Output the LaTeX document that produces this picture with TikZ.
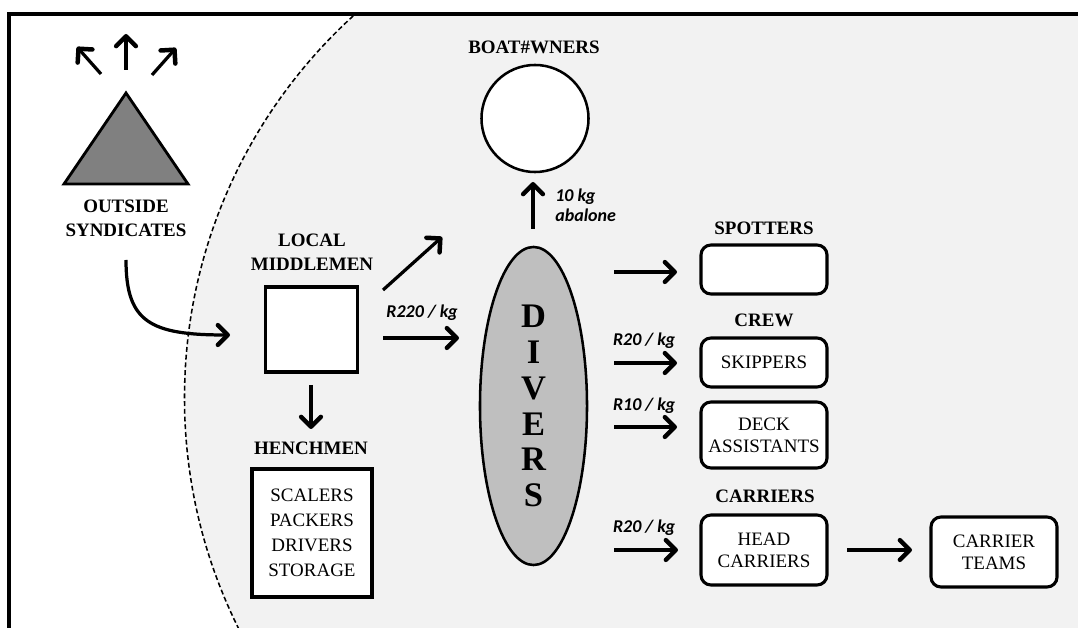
\documentclass[tikz,border=0pt]{standalone}
\usepackage{fontspec}
\setmainfont{Liberation Serif}
\newfontfamily\ratefont{Carlito}
\usetikzlibrary{shapes.geometric, arrows.meta}

\begin{document}
\begin{tikzpicture}[x=0.025cm, y=-0.025cm, % 1 unit = 1 px of the sketch
  arr/.style={line width=2.3pt, -{Straight Barb[length=7pt, width=14pt, line width=3.2pt, round]}},
  title/.style={font=\fontsize{13.5}{17}\selectfont\bfseries, inner sep=0pt, align=center},
  rate/.style={font=\ratefont\fontsize{12.8}{14.2}\selectfont\bfseries\itshape, inner sep=0pt, align=left},
  rbox/.style={draw, line width=2.2pt, fill=white, rounded corners=0.25cm, minimum width=3.15cm,
    font=\fontsize{13.5}{15.5}\selectfont, align=center, inner sep=0pt}
]
\useasboundingbox (0,0) rectangle (1078,628);

% shaded area of the local trade
\begin{scope}
  \clip (9,14) rectangle (1078,628);
  \fill[black!5] (701.5,398) circle (517);
  \fill[black!5] (701.5,14) rectangle (1078,628);
\end{scope}
\begin{scope}
  \clip (9,14) rectangle (701,628);
  \draw[line width=1.1pt, dash pattern=on 3.5pt off 2pt] (701.5,398) circle (517);
\end{scope}
\draw[line width=2.4pt] (9,628) -- (9,14) -- (1078,14);

% outside syndicates
\filldraw[fill=black!50, line width=2pt] (126,93) -- (188,184) -- (64,184) -- cycle;
\node[title] (synd) at (126,218) {OUTSIDE\\SYNDICATES};
\coordinate (upA) at (126,70);   \coordinate (upB) at (126,34);
\coordinate (ulA) at (101,74);   \coordinate (ulB) at (77,47);
\coordinate (urA) at (152,75);   \coordinate (urB) at (176,48);
\draw[arr] (upA) -- (upB);
\draw[arr] (ulA) -- (ulB);
\draw[arr] (urA) -- (urB);

% middlemen and henchmen
\node[title] (midlab) at (312,252) {LOCAL\\MIDDLEMEN};
\node[draw, line width=2.8pt, fill=white, minimum width=2.3cm, minimum height=2.125cm] (mid) at (311.5,329.5) {};
\node[title] (henlab) at (311,448) {HENCHMEN};
\node[draw, line width=2.3pt, fill=white, minimum width=3cm, minimum height=3.2cm,
  font=\fontsize{13.5}{17.7}\selectfont, align=center] (hench) at (312,533) {SCALERS\\PACKERS\\DRIVERS\\STORAGE};
\coordinate (syndA) at (126,260);  \coordinate (syndB) at (230,335);
\draw[arr] (syndA) .. controls (126,322) and (150,335) .. (syndB);
\coordinate (m2bA) at (383,290);   \coordinate (m2bB) at (442,237);
\coordinate (m2dA) at (383,338);   \coordinate (m2dB) at (459,338);
\coordinate (m2hA) at (311,385);   \coordinate (m2hB) at (311,429);
\draw[arr] (m2bA) -- (m2bB);
\draw[arr] (m2dA) -- (m2dB);
\draw[arr] (m2hA) -- (m2hB);
\node[rate] (r220) at (422,313) {R220 / kg};

% boat owners and divers
\node[title] (boatlab) at (534,47) {BOAT\#WNERS};
\node[circle, draw, line width=1.8pt, fill=white, minimum size=2.675cm, inner sep=0pt] (boat) at (535,118.5) {};
\node[ellipse, draw, line width=1.8pt, fill=black!25, minimum width=2.675cm, minimum height=7.95cm, inner sep=0pt,
  font=\fontsize{24.5}{25.5}\selectfont\bfseries, align=center] (divers) at (533.5,406) {D\\I\\V\\E\\R\\S};
\coordinate (d2bA) at (533,229);   \coordinate (d2bB) at (533,182);
\draw[arr] (d2bA) -- (d2bB);
\node[rate, anchor=west] (catch) at (555,205) {10 kg\\abalone};

% divers' helpers
\node[title] (spotlab) at (764,228) {SPOTTERS};
\node[rbox, minimum height=1.225cm] (spot) at (764,269.5) {};
\node[title] (crewlab) at (764,320) {CREW};
\node[rbox, minimum height=1.225cm] (skip) at (764,362.5) {SKIPPERS};
\node[rbox, minimum height=1.65cm] (deck) at (764,435) {DECK\\ASSISTANTS};
\node[title] (carrlab) at (765,496) {CARRIERS};
\node[rbox, minimum height=1.75cm] (head) at (764,550) {HEAD\\CARRIERS};
\node[rbox, minimum height=1.75cm] (teams) at (994,552) {CARRIER\\TEAMS};
\node[rate] (r20a) at (644,341) {R20 / kg};
\node[rate] (r10) at (644,406) {R10 / kg};
\node[rate] (r20b) at (644,528) {R20 / kg};
\coordinate (spA) at (614,272);    \coordinate (spB) at (677,272);
\coordinate (skA) at (614,363);    \coordinate (skB) at (677,363);
\coordinate (dkA) at (614,427);    \coordinate (dkB) at (677,427);
\coordinate (hdA) at (614,550);    \coordinate (hdB) at (678,550);
\coordinate (tmA) at (847,550);    \coordinate (tmB) at (912,550);
\draw[arr] (spA) -- (spB);
\draw[arr] (skA) -- (skB);
\draw[arr] (dkA) -- (dkB);
\draw[arr] (hdA) -- (hdB);
\draw[arr] (tmA) -- (tmB);

\end{tikzpicture}
\end{document}
